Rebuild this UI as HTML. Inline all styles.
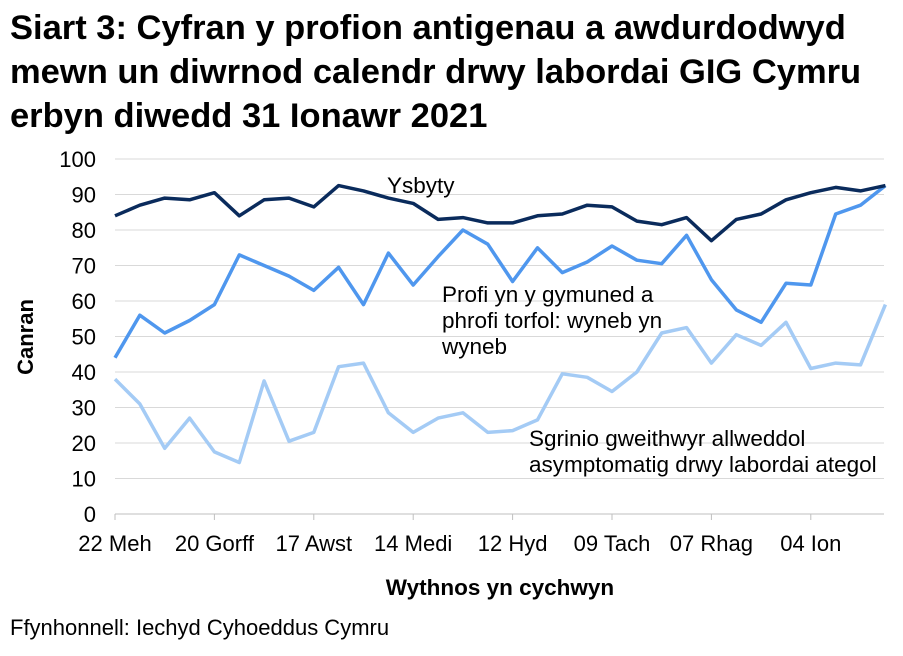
<!DOCTYPE html>
<html><head><meta charset="utf-8"><style>
html,body{margin:0;padding:0;background:#fff;}
body{width:903px;height:651px;overflow:hidden;font-family:"Liberation Sans",Arial,sans-serif;}
</style></head><body>
<svg id="s" width="903" height="651" xmlns="http://www.w3.org/2000/svg" font-family="Liberation Sans, Arial, sans-serif">
<text x="10" y="39" font-size="34.5" font-weight="bold" fill="#000">Siart 3: Cyfran y profion antigenau a awdurdodwyd</text>
<text x="10" y="83" font-size="34.5" font-weight="bold" fill="#000">mewn un diwrnod calendr drwy labordai GIG Cymru</text>
<text x="10" y="127" font-size="34.5" font-weight="bold" fill="#000">erbyn diwedd 31 Ionawr 2021</text>
<g id="grid"></g>
<g id="lines"></g>
<text x="387" y="193" font-size="22.5">Ysbyty</text>
<text x="442" y="302" font-size="22.5">Profi yn y gymuned a</text>
<text x="442" y="328" font-size="22.5">phrofi torfol: wyneb yn</text>
<text x="442" y="354" font-size="22.5">wyneb</text>
<text x="529" y="446" font-size="22.5">Sgrinio gweithwyr allweddol</text>
<text x="529" y="472" font-size="22.5">asymptomatig drwy labordai ategol</text>
<text transform="translate(33,337) rotate(-90)" font-size="22" font-weight="bold" text-anchor="middle">Canran</text>
<text x="500" y="595" font-size="22.5" font-weight="bold" text-anchor="middle">Wythnos yn cychwyn</text>
<text x="10" y="635" font-size="22">Ffynhonnell: Iechyd Cyhoeddus Cymru</text>
</svg>
<script>
var NS="http://www.w3.org/2000/svg",s=document.getElementById('s');
var g=document.getElementById('grid'),L=document.getElementById('lines');
function el(t,a,p){var e=document.createElementNS(NS,t);for(var k in a)e.setAttribute(k,a[k]);(p||s).appendChild(e);return e;}
var x0=115,dx=24.85,y0=514,k=3.55;
for(var v=0;v<=100;v+=10){var y=y0-v*k;
 if(v>0)el('line',{x1:x0,x2:884,y1:y,y2:y,stroke:'#d9d9d9','stroke-width':1},g);
 var t=el('text',{x:96,y:y+8,'font-size':22,'text-anchor':'end'},g);t.textContent=v;}
el('line',{x1:x0,x2:884,y1:y0,y2:y0,stroke:'#bfbfbf','stroke-width':1},g);
var labs=["22 Meh","20 Gorff","17 Awst","14 Medi","12 Hyd","09 Tach","07 Rhag","04 Ion"];
for(var i=0;i<8;i++){var x=x0+i*4*dx;
 el('line',{x1:x,x2:x,y1:y0,y2:y0+6,stroke:'#bfbfbf'},g);
 var t=el('text',{x:x,y:551,'font-size':22,'text-anchor':'middle'},g);t.textContent=labs[i];}
var D=[
 ['#a4cbf5',[38,31,18.5,27,17.5,14.5,37.5,20.5,23,41.5,42.5,28.5,23,27,28.5,23,23.5,26.5,39.5,38.5,34.5,40,51,52.5,42.5,50.5,47.5,54,41,42.5,42,59]],
 ['#4f97ee',[44,56,51,54.5,59,73,70,67,63,69.5,59,73.5,64.5,72.5,80,76,65.5,75,68,71,75.5,71.5,70.5,78.5,66,57.5,54,65,64.5,84.5,87,92.5]],
 ['#0a2b5c',[84,87,89,88.5,90.5,84,88.5,89,86.5,92.5,91,89,87.5,83,83.5,82,82,84,84.5,87,86.5,82.5,81.5,83.5,77,83,84.5,88.5,90.5,92,91,92.5]]];
D.forEach(function(d){var p=d[1].map(function(v,i){return (x0+i*dx).toFixed(1)+','+(y0-v*k).toFixed(1);}).join(' ');
 el('polyline',{points:p,fill:'none',stroke:d[0],'stroke-width':3.5,'stroke-linejoin':'round'},L);});
</script>
</body></html>
